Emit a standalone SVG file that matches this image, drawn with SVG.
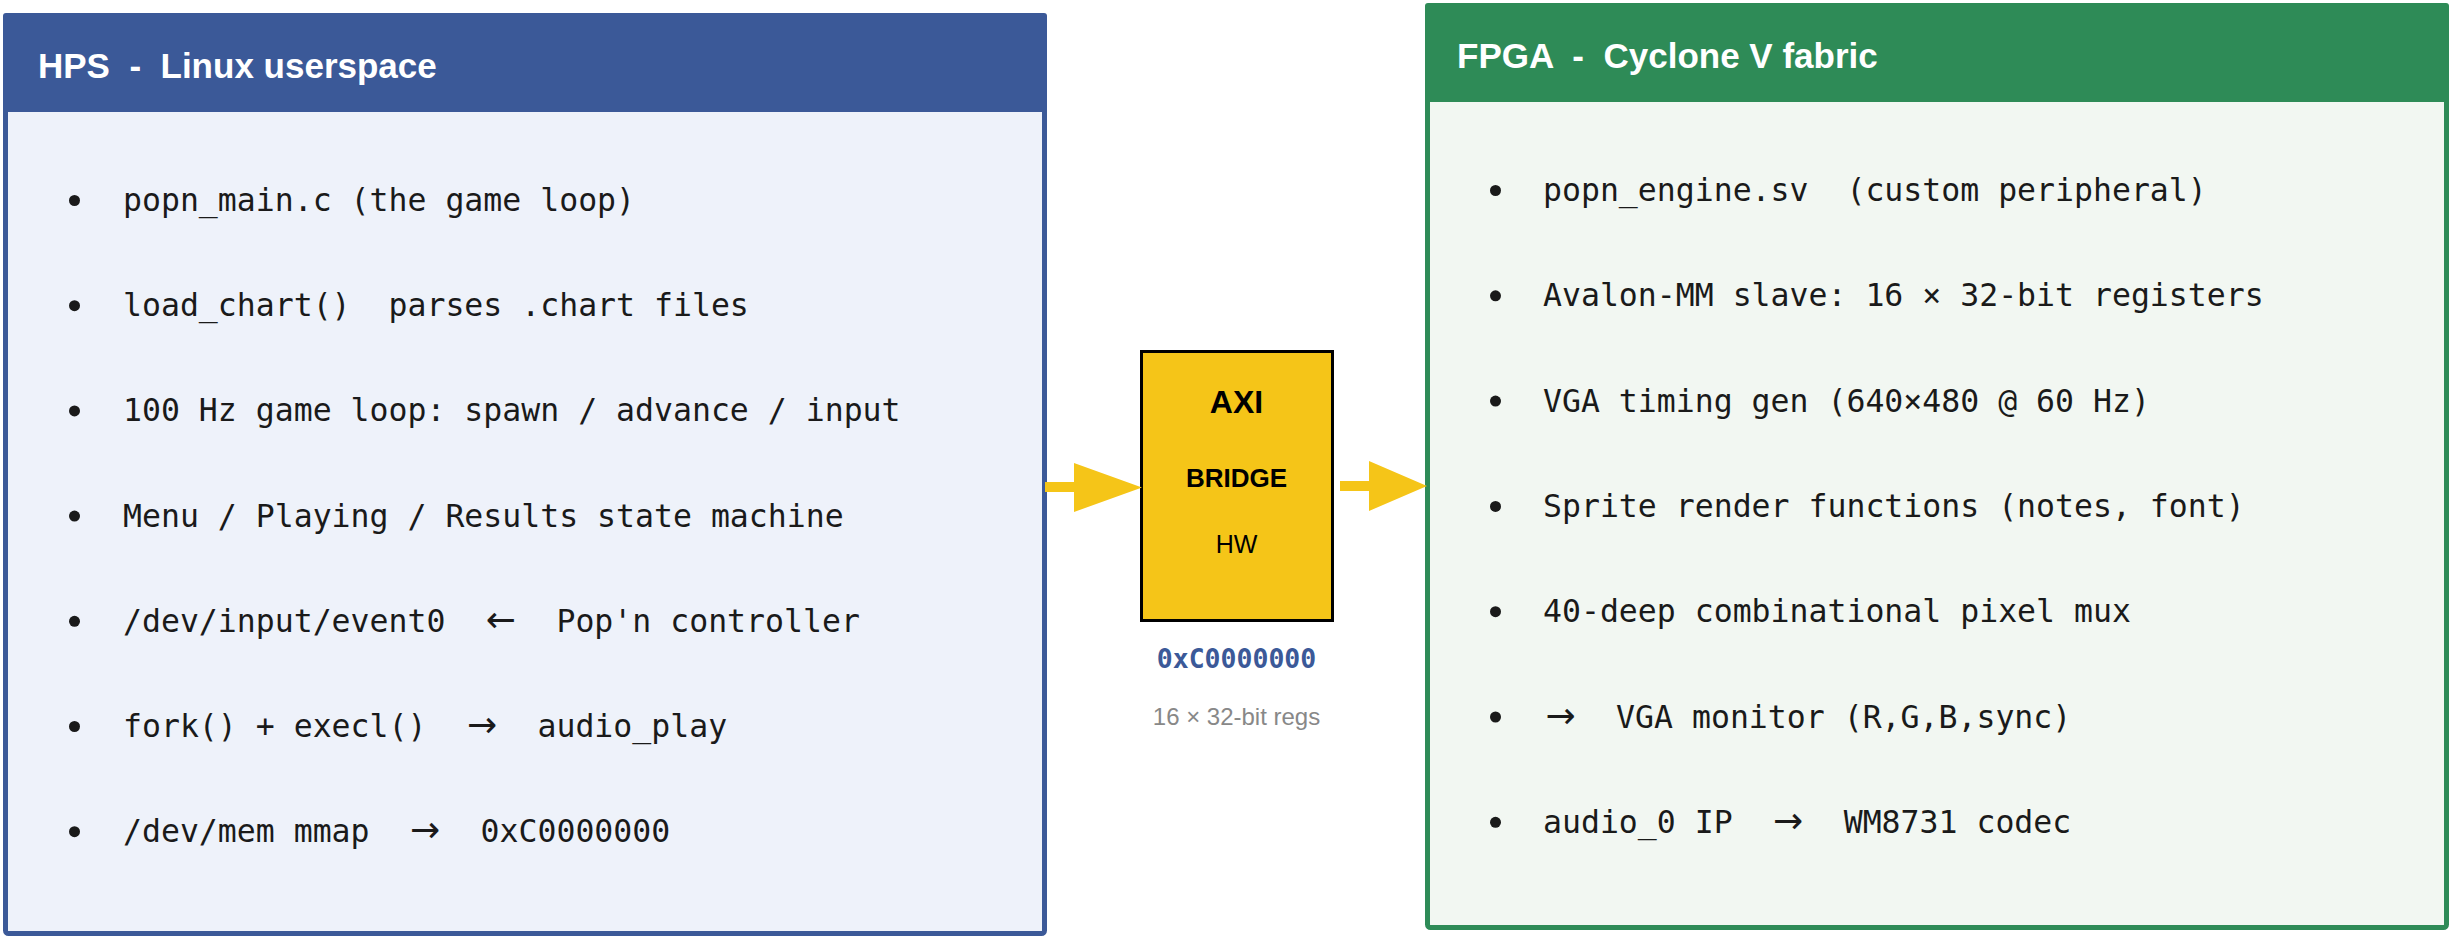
<svg xmlns="http://www.w3.org/2000/svg" width="2459" height="937" viewBox="0 0 2459 937">
<style>
.title{font-family:"Liberation Sans",Arial,sans-serif;font-weight:bold;font-size:35px;fill:#ffffff;white-space:pre}
.item{font-family:"DejaVu Sans Mono","Liberation Mono",monospace;font-size:31.5px;fill:#1a1a1a;white-space:pre}
.ar{font-family:"DejaVu Sans",sans-serif;font-size:36px}
.dot{fill:#1a1a1a}
.brk{font-family:"Liberation Sans",Arial,sans-serif;fill:#000;text-anchor:middle}
</style>
<rect width="2459" height="937" fill="#ffffff"/>
<g id="hps">
<rect x="5.5" y="15.5" width="1039" height="918" rx="3" fill="#eef2fa" stroke="#3b5998" stroke-width="5"/>
<path d="M3,112 V16 a3,3 0 0 1 3,-3 H1044 a3,3 0 0 1 3,3 V112 Z" fill="#3b5998"/>
<text class="title" x="38" y="78">HPS  -  Linux userspace</text>
<circle class="dot" cx="74.5" cy="200.5" r="5.5"/><text class="item" x="123" y="211">popn_main.c (the game loop)</text>
<circle class="dot" cx="74.5" cy="305.7" r="5.5"/><text class="item" x="123" y="316.2">load_chart()  parses .chart files</text>
<circle class="dot" cx="74.5" cy="410.9" r="5.5"/><text class="item" x="123" y="421.4">100 Hz game loop: spawn / advance / input</text>
<circle class="dot" cx="74.5" cy="516.1" r="5.5"/><text class="item" x="123" y="526.6">Menu / Playing / Results state machine</text>
<circle class="dot" cx="74.5" cy="621.3" r="5.5"/><text class="item" x="123" y="631.8">/dev/input/event0  <tspan class="ar" dx="2.5">←</tspan><tspan dx="2.5">  Pop'n controller</tspan></text>
<circle class="dot" cx="74.5" cy="726.5" r="5.5"/><text class="item" x="123" y="737">fork() + execl()  <tspan class="ar" dx="2.5">→</tspan><tspan dx="2.5">  audio_play</tspan></text>
<circle class="dot" cx="74.5" cy="831.7" r="5.5"/><text class="item" x="123" y="842.2">/dev/mem mmap  <tspan class="ar" dx="2.5">→</tspan><tspan dx="2.5">  0xC0000000</tspan></text>
</g>
<g id="fpga">
<rect x="1427.5" y="5.5" width="1019" height="922" rx="3" fill="#f2f7f2" stroke="#2e8b57" stroke-width="5"/>
<path d="M1425,102 V6 a3,3 0 0 1 3,-3 H2446 a3,3 0 0 1 3,3 V102 Z" fill="#2e8b57"/>
<text class="title" x="1457" y="68">FPGA  -  Cyclone V fabric</text>
<circle class="dot" cx="1495.5" cy="190.5" r="5.5"/><text class="item" x="1543" y="201">popn_engine.sv  (custom peripheral)</text>
<circle class="dot" cx="1495.5" cy="295.8" r="5.5"/><text class="item" x="1543" y="306.3">Avalon-MM slave: 16 × 32-bit registers</text>
<circle class="dot" cx="1495.5" cy="401.1" r="5.5"/><text class="item" x="1543" y="411.6">VGA timing gen (640×480 @ 60 Hz)</text>
<circle class="dot" cx="1495.5" cy="506.4" r="5.5"/><text class="item" x="1543" y="516.9">Sprite render functions (notes, font)</text>
<circle class="dot" cx="1495.5" cy="611.7" r="5.5"/><text class="item" x="1543" y="622.2">40-deep combinational pixel mux</text>
<circle class="dot" cx="1495.5" cy="717" r="5.5"/><text class="item" x="1543" y="727.5"><tspan class="ar" dx="2.5">→</tspan><tspan dx="2.5">  VGA monitor (R,G,B,sync)</tspan></text>
<circle class="dot" cx="1495.5" cy="822.3" r="5.5"/><text class="item" x="1543" y="832.8">audio_0 IP  <tspan class="ar" dx="2.5">→</tspan><tspan dx="2.5">  WM8731 codec</tspan></text>
</g>
<g id="bridge">
<rect x="1141.5" y="351.5" width="191" height="269" fill="#f5c518" stroke="#000" stroke-width="3"/>
<text class="brk" x="1236.5" y="413" font-size="32" font-weight="bold">AXI</text>
<text class="brk" x="1236.5" y="487" font-size="26" font-weight="bold">BRIDGE</text>
<text class="brk" x="1236.5" y="553" font-size="25">HW</text>
<text x="1236.5" y="668" text-anchor="middle" font-family="DejaVu Sans Mono,Liberation Mono,monospace" font-size="26.5" font-weight="bold" fill="#3b5998">0xC0000000</text>
<text x="1236.5" y="725" text-anchor="middle" font-family="Liberation Sans,Arial,sans-serif" font-size="24" fill="#888888">16 × 32-bit regs</text>
</g>
<g id="connectors" fill="#f5c518">
<path d="M1045,482 H1074 V463 L1142,487.5 L1074,512 V492 H1045 Z"/>
<path d="M1340,481 H1369 V461 L1427,486 L1369,511 V491 H1340 Z"/>
</g>
</svg>
